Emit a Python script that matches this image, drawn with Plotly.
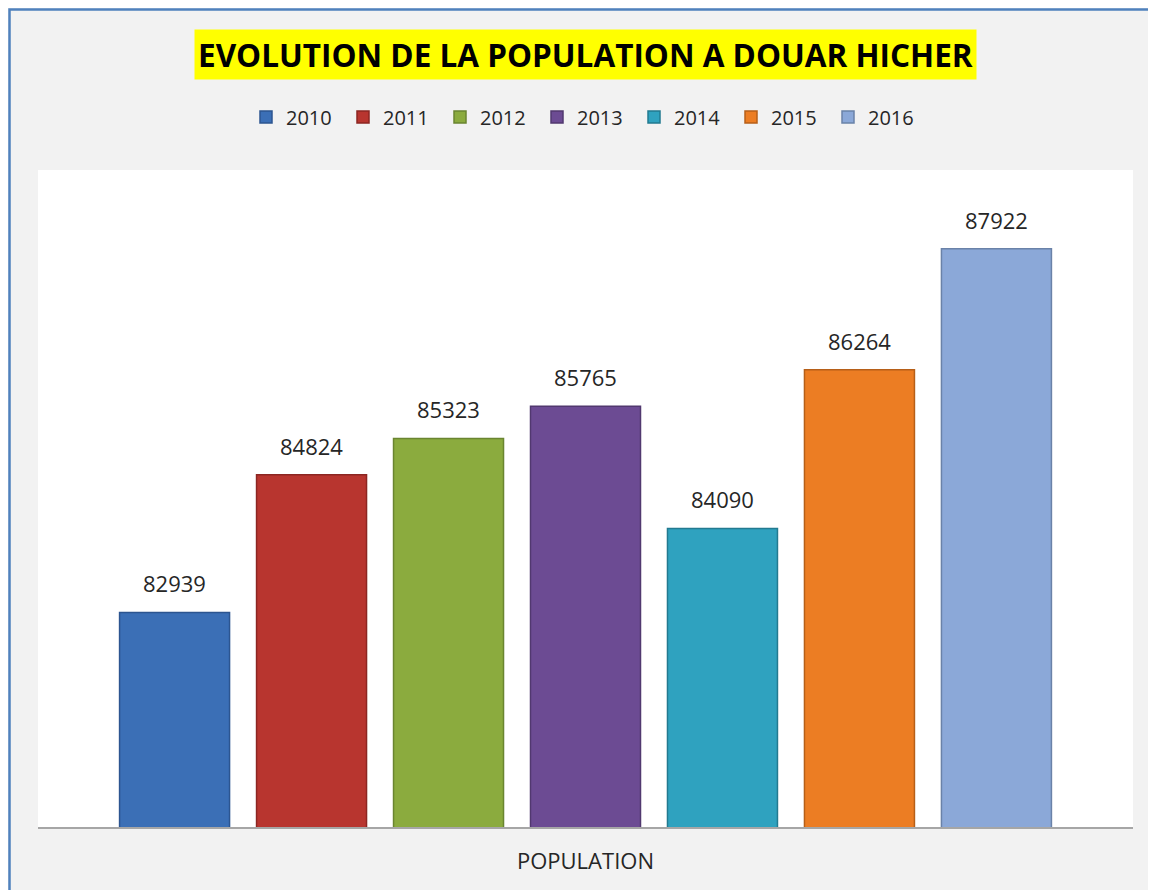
import plotly.graph_objects as go

years = ["2010", "2011", "2012", "2013", "2014", "2015", "2016"]
population = [82939, 84824, 85323, 85765, 84090, 86264, 87922]
colors = ["#3b6fb6", "#b8352f", "#8bab3e", "#6c4b93", "#2fa2bf", "#ec7d23", "#8ba8d8"]
edges = ["#2c5590", "#8c2622", "#6a8530", "#51386f", "#227a90", "#b65f18", "#6a82a8"]
title_text = "EVOLUTION DE LA POPULATION A DOUAR HICHER"
category_label = "POPULATION"

# page has an 8px body margin; figure coordinates = reference - 8
OFF = 8
W, H = 1148, 882
ml, mr, mt, mb = 38 - OFF, 23, 170 - OFF, 63
pw, ph = W - ml - mr, H - mt - mb
base_y = H - mb  # pixel (figure coords) of plot bottom


def py(ref_y):
    """reference page pixel y -> paper y"""
    return (base_y - (ref_y - OFF)) / ph


def px(ref_x):
    return ((ref_x - OFF) - ml) / pw


fig = go.Figure()
for i, (yr, val, c, e) in enumerate(zip(years, population, colors, edges)):
    fig.add_trace(go.Bar(
        x=[yr], y=[val], name=yr,
        marker=dict(color=c, line=dict(color=e, width=1.5)),
        hoverinfo="name+y",
    ))
    fig.add_annotation(
        x=i, y=val, text=str(val), showarrow=False,
        yanchor="bottom", yshift=12,
        font=dict(family="Open Sans", size=22, color="#262626"),
    )

fig.add_annotation(
    xref="paper", yref="paper", x=0.5, y=py(54),
    text="<b>" + title_text + "</b>", showarrow=False,
    xanchor="center", yanchor="middle",
    font=dict(family="Open Sans", size=31.5, color="#000000"),
    bgcolor="#ffff00", borderpad=3,
)
fig.add_annotation(
    xref="paper", yref="paper", x=0.5, y=py(860),
    text=category_label, showarrow=False,
    xanchor="center", yanchor="middle",
    font=dict(family="Open Sans", size=22, color="#262626"),
)

# outer chart border (left and top edges visible)
x0, x1, y0, y1 = px(9.5), px(1160), py(895), py(9.5)
fig.add_shape(
    type="path", xref="paper", yref="paper",
    path=f"M {x0} {y0} L {x0} {y1} L {x1} {y1}",
    line=dict(color="#4f81bd", width=2.5), layer="below",
)

fig.update_layout(
    width=W, height=H,
    margin=dict(l=ml, r=mr, t=mt, b=mb),
    paper_bgcolor="#f2f2f2", plot_bgcolor="#ffffff",
    barmode="overlay", bargap=0.197,
    showlegend=True,
    legend=dict(
        orientation="h", x=0.5, xanchor="center",
        y=py(117), yanchor="middle",
        font=dict(family="Open Sans", size=20, color="#262626"),
        bgcolor="rgba(0,0,0,0)", itemclick=False,
        entrywidth=52, itemwidth=30,
    ),
    xaxis=dict(
        type="category", range=[-0.997, 6.997],
        showticklabels=False, showgrid=False, zeroline=False,
        showline=True, linecolor="#a6a6a6", linewidth=1.5, ticks="",
    ),
    yaxis=dict(
        range=[80000, 89000], visible=False, showgrid=False,
    ),
)

fig.write_html("out.html")
